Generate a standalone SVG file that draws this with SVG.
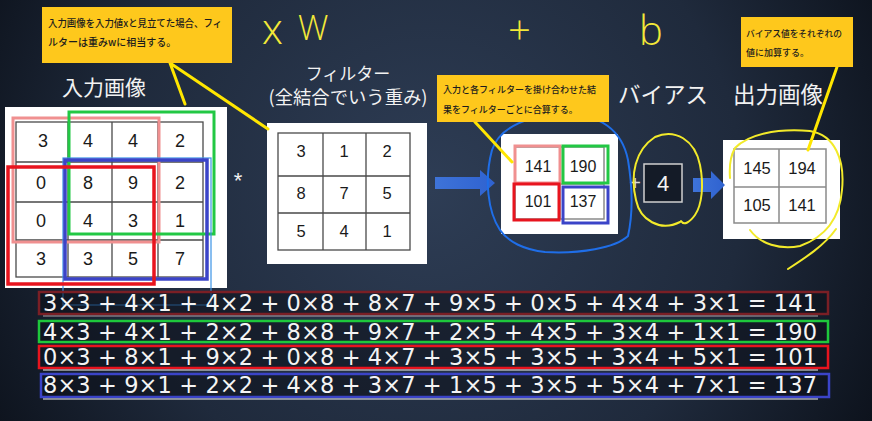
<svg xmlns="http://www.w3.org/2000/svg" width="872" height="421" viewBox="0 0 872 421">
<defs>
<radialGradient id="bg" cx="430" cy="190" r="520" gradientUnits="userSpaceOnUse">
<stop offset="0" stop-color="#2e3d55"/>
<stop offset="0.6" stop-color="#1f2a3c"/>
<stop offset="1" stop-color="#0b1019"/>
</radialGradient>
<linearGradient id="arr" x1="0" y1="0" x2="1" y2="0">
<stop offset="0" stop-color="#3e73d8"/>
<stop offset="1" stop-color="#2f62d0"/>
</linearGradient>
<style>
.panel{fill:#ffffff}
.grid{fill:none;stroke:#4a4a4a;stroke-width:1.3}
.ggrid{fill:none;stroke:#8a8a8a;stroke-width:1.5}
.num{font-family:"Liberation Sans",Arial,sans-serif;fill:#1a1a1a;text-anchor:middle;dominant-baseline:central}
.title{font-family:"Noto Sans CJK JP","Noto Sans",sans-serif;fill:#f2f2f2;text-anchor:middle}
.note{font-family:"Noto Sans CJK JP","Noto Sans",sans-serif;fill:#1c1c1c;font-weight:500}
.callout{fill:#fec81c}
.ptr{stroke:#ffe600;stroke-width:3;fill:none;stroke-linecap:round}
.hand{font-family:"Open Sans","Lato",sans-serif;font-weight:300;fill:#f3e838}
.pen-y{fill:none;stroke:#f2ea2a;stroke-width:2;stroke-linecap:round}
.eq{font-family:"DejaVu Sans",Verdana,sans-serif;font-size:22.5px;fill:#f4f4f4}
.eqbox{fill:#0c1119;fill-opacity:0.55;stroke-width:2.5}
</style>
</defs>
<rect width="872" height="421" fill="url(#bg)"/>

<!-- handwritten formula -->
<g id="formula">
<text class="hand" x="262" y="44" font-size="42">x</text>
<text class="hand" x="298" y="40" font-size="34">W</text>
<text class="hand" x="508" y="44" font-size="40">+</text>
<text class="hand" x="639" y="45" font-size="40">b</text>
</g>

<!-- input image -->
<g id="input">
<text class="title" x="104" y="95" font-size="21">入力画像</text>
<rect class="panel" x="5" y="107" width="222" height="181"/>
<rect class="grid" x="16" y="122" width="187" height="155"/>
<path class="grid" d="M68 122V277M112 122V277M158 122V277M16 162H203M16 202H203M16 240H203"/>
<g font-size="18">
<text class="num" x="43" y="141">3</text><text class="num" x="88" y="141">4</text><text class="num" x="133" y="141">4</text><text class="num" x="180" y="141">2</text>
<text class="num" x="41" y="183">0</text><text class="num" x="88" y="183">8</text><text class="num" x="133" y="183">9</text><text class="num" x="180" y="183">2</text>
<text class="num" x="41" y="221">0</text><text class="num" x="88" y="221">4</text><text class="num" x="133" y="221">3</text><text class="num" x="180" y="221">1</text>
<text class="num" x="41" y="259">3</text><text class="num" x="88" y="259">3</text><text class="num" x="133" y="259">5</text><text class="num" x="180" y="259">7</text>
</g>
<rect x="13" y="118" width="146" height="124" fill="none" stroke="#f09090" stroke-width="3"/>
<rect x="69" y="112" width="145" height="122" fill="none" stroke="#22c844" stroke-width="3"/>
<rect x="63" y="158" width="148" height="147" fill="none" stroke="#3b93e6" stroke-width="1.2"/>
<rect x="65" y="160" width="142" height="119" fill="none" stroke="#3b44c8" stroke-width="3.5"/>
<rect x="8" y="167" width="146" height="117" fill="none" stroke="#e8141e" stroke-width="3.5"/>
</g>

<text x="238" y="188" font-family="Liberation Sans,Arial,sans-serif" font-size="22" fill="#f2f2f2" text-anchor="middle">*</text>

<!-- filter -->
<g id="filter">
<text class="title" x="348" y="80" font-size="17">フィルター</text>
<text class="title" x="348" y="104" font-size="18" textLength="159" lengthAdjust="spacingAndGlyphs">(全結合でいう重み)</text>
<rect class="panel" x="267" y="123" width="160" height="141"/>
<rect class="grid" x="278" y="133" width="132" height="117"/>
<path class="grid" d="M323 133V250M366 133V250M278 176H410M278 213H410"/>
<g font-size="16.5">
<text class="num" x="301" y="151">3</text><text class="num" x="344" y="151">1</text><text class="num" x="387" y="151">2</text>
<text class="num" x="301" y="193">8</text><text class="num" x="344" y="193">7</text><text class="num" x="387" y="193">5</text>
<text class="num" x="301" y="231">5</text><text class="num" x="344" y="231">4</text><text class="num" x="387" y="231">1</text>
</g>
</g>

<!-- result -->
<g id="result">
<rect class="panel" x="501" y="134" width="117" height="100"/>
<rect class="ggrid" x="515" y="147" width="89" height="72"/>
<path class="ggrid" d="M560 147V219M515 184H604"/>
<g font-size="16">
<text class="num" x="538" y="166">141</text><text class="num" x="583" y="166">190</text>
<text class="num" x="538" y="201">101</text><text class="num" x="583" y="201">137</text>
</g>
<rect x="515" y="146" width="45" height="37" fill="none" stroke="#f09090" stroke-width="3"/>
<rect x="563" y="146" width="45" height="37" fill="none" stroke="#22c844" stroke-width="3"/>
<rect x="514" y="184" width="45" height="36" fill="none" stroke="#e8141e" stroke-width="3"/>
<rect x="563" y="187" width="45" height="36" fill="none" stroke="#3b44c8" stroke-width="3"/>
</g>

<!-- bias -->
<g id="bias">
<text class="title" x="663" y="103" font-size="22.5">バイアス</text>
<text x="635" y="190" font-family="Liberation Sans,Arial,sans-serif" font-size="20" fill="#d8d8d8" text-anchor="middle">+</text>
<rect x="644" y="164" width="38" height="38" fill="#141b27" stroke="#d0d0d0" stroke-width="1.5"/>
<text x="663" y="183" font-family="Liberation Sans,Arial,sans-serif" font-size="22" fill="#f4f4f4" text-anchor="middle" dominant-baseline="central">4</text>
</g>

<!-- output -->
<g id="output">
<text class="title" x="778" y="103" font-size="22.5">出力画像</text>
<rect class="panel" x="723" y="140" width="117" height="99"/>
<rect class="ggrid" x="734" y="149" width="92" height="74" stroke="#6a6a6a"/>
<path class="ggrid" d="M779 149V223M734 187H826" stroke="#6a6a6a"/>
<g font-size="16.5">
<text class="num" x="757" y="168">145</text><text class="num" x="802" y="168">194</text>
<text class="num" x="757" y="205">105</text><text class="num" x="802" y="205">141</text>
</g>
</g>

<!-- connectors, arrows, pen marks -->
<g id="connectors">
<path d="M435 177H480V170L495 183L480 196V189H435Z" fill="url(#arr)"/>
<path d="M693 178H711V171L725 185L711 199V192H693Z" fill="url(#arr)"/>
<path d="M500 230C488 212 484 180 492 150C500 126 530 115 565 114C600 114 622 130 628 160C633 190 632 218 628 236C615 248 580 254 545 252C525 250 508 242 500 230Z" fill="none" stroke="#1f6ee8" stroke-width="2"/>
<path class="pen-y" d="M680 222C660 232 640 220 636 200C630 175 635 150 655 137C675 128 695 140 700 165C704 185 702 205 695 215C690 222 684 226 681 221"/>
<path class="pen-y" d="M730 178C729 165 731 155 735 148C748 135 775 128 810 131C835 135 845 160 842 190C840 215 828 236 800 246C780 250 760 244 750 230"/>
<path class="pen-y" d="M788 269C805 258 825 245 836 229"/>
<path class="ptr" d="M170 63L185 104M170 63L268 129"/>
<path class="ptr" d="M475 122L512 162"/>
<path class="ptr" d="M837 67L808 150"/>
</g>

<!-- callouts -->
<g id="note-weight">
<rect class="callout" x="42" y="7" width="190" height="56"/>
<text class="note" x="48" y="27" font-size="10" textLength="174" lengthAdjust="spacingAndGlyphs">入力画像を入力値xと見立てた場合、フィ</text>
<text class="note" x="48" y="46" font-size="10">ルターは重みwに相当する。</text>
</g>
<g id="note-sum">
<rect class="callout" x="437" y="75" width="172" height="47"/>
<text class="note" x="443" y="93" font-size="9" textLength="153" lengthAdjust="spacingAndGlyphs">入力と各フィルターを掛け合わせた結</text>
<text class="note" x="443" y="113" font-size="9">果をフィルターごとに合算する。</text>
</g>
<g id="note-bias">
<rect class="callout" x="741" y="17" width="112" height="50"/>
<text class="note" x="746" y="37" font-size="9" textLength="96" lengthAdjust="spacingAndGlyphs">バイアス値をそれぞれの</text>
<text class="note" x="746" y="56" font-size="9">値に加算する。</text>
</g>

<!-- equations -->
<g id="equations">
<rect class="eqbox" x="39" y="292" width="789" height="22" stroke="#7a1f25"/>
<line x1="43" y1="316" x2="818" y2="316" stroke="#e8d8d8" stroke-width="1" opacity="0.7"/>
<text class="eq" x="43" y="311" textLength="774" lengthAdjust="spacing">3×3 + 4×1 + 4×2 + 0×8 + 8×7 + 9×5 + 0×5 + 4×4 + 3×1 = 141</text>
<rect class="eqbox" x="39" y="321" width="789" height="21" stroke="#1ec83c"/>
<text class="eq" x="43" y="340" textLength="774" lengthAdjust="spacing">4×3 + 4×1 + 2×2 + 8×8 + 9×7 + 2×5 + 4×5 + 3×4 + 1×1 = 190</text>
<rect class="eqbox" x="39" y="346" width="789" height="22" stroke="#e8141e"/>
<line x1="43" y1="370" x2="818" y2="370" stroke="#f0f0f0" stroke-width="1.2"/>
<text class="eq" x="43" y="365" textLength="774" lengthAdjust="spacing">0×3 + 8×1 + 9×2 + 0×8 + 4×7 + 3×5 + 3×5 + 3×4 + 5×1 = 101</text>
<rect class="eqbox" x="41" y="374" width="788" height="23" stroke="#3b44c8"/>
<line x1="43" y1="399" x2="818" y2="399" stroke="#f0f0f0" stroke-width="1.2"/>
<text class="eq" x="43" y="393" textLength="774" lengthAdjust="spacing">8×3 + 9×1 + 2×2 + 4×8 + 3×7 + 1×5 + 3×5 + 5×4 + 7×1 = 137</text>
</g>
</svg>
